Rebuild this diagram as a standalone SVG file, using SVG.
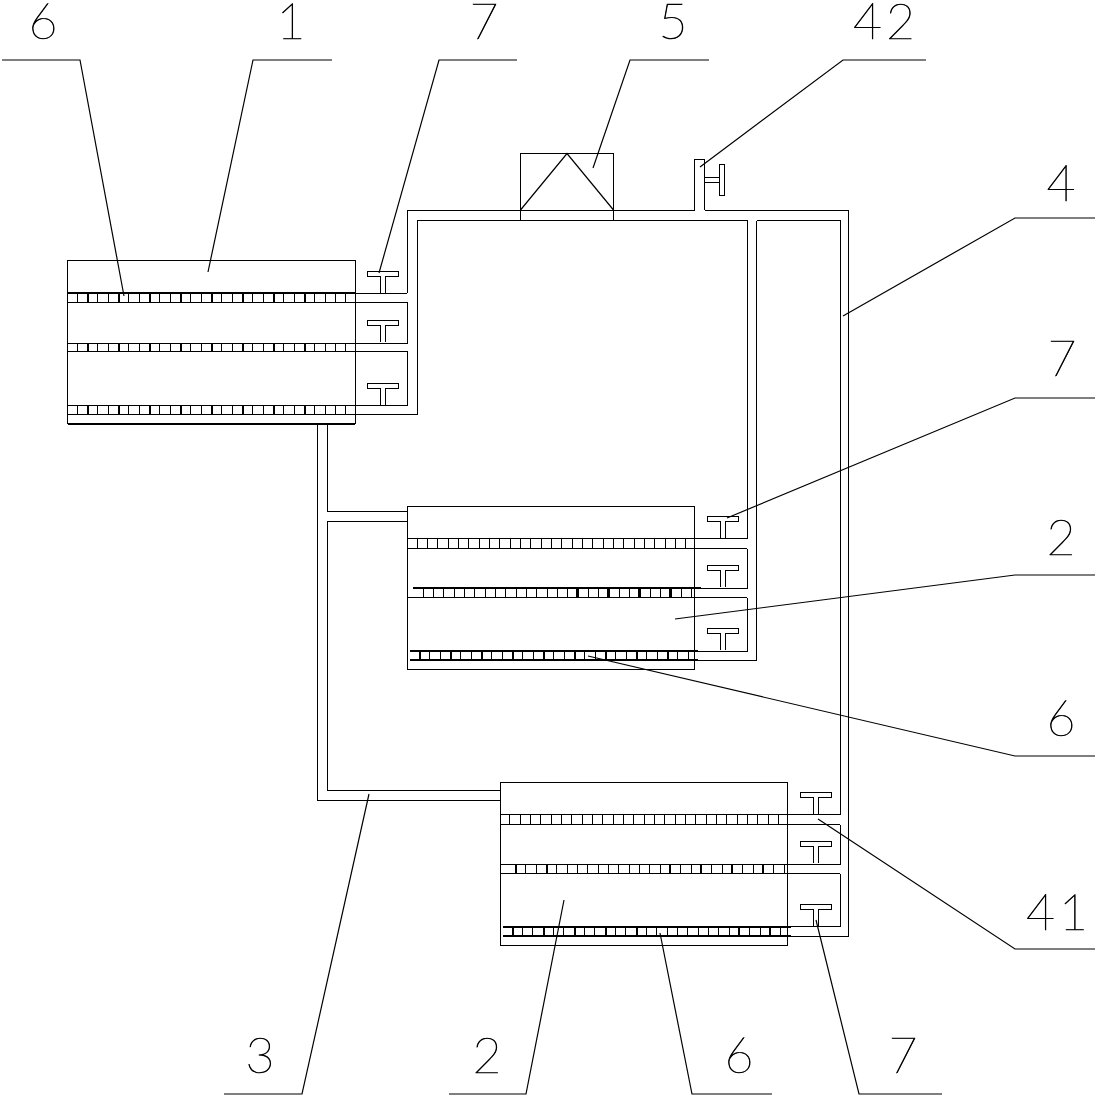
<svg xmlns="http://www.w3.org/2000/svg" width="1096" height="1104" viewBox="0 0 1096 1104">
<style>
.l{fill:none;stroke:#000;stroke-width:1;shape-rendering:crispEdges}
.h{fill:none;stroke:#000;stroke-width:2;shape-rendering:crispEdges}
.k{fill:none;stroke:#000;stroke-width:1.2}
.t{fill:none;stroke:#000;stroke-width:9;stroke-dasharray:1 9.33;shape-rendering:crispEdges}
.b{fill:none;stroke:#000;stroke-width:9;stroke-dasharray:2 29;shape-rendering:crispEdges}
text{font-family:"Lato","Liberation Sans",sans-serif;font-weight:100;font-size:50px;text-anchor:middle;fill:#000;stroke:#000;stroke-width:.7}
.w{letter-spacing:4px}
</style>
<defs>
<path id="tee" class="l" d="M13.500 22V5.500H0.500V0.500H31.500V5.500H18.500V22"/>
</defs>
<g id="connectors">
<path id="pipe4" class="l" d="M407 293V210.500H694.500M704.500 210.500H848.500V936.500H787M417 220.500V414H355M407 302V343H355M407 351V405H355M355 293H407M355 302H407M355 351H407M417 220.500H747V538.500H695M756.500 220.500H840V814.500H787M756.500 220.500V660.500H695M747 548.500V588H695M747 597.500V651H695M695 548.500H747M695 597.500H747M840 824.500V864H787M840 873.500V926.500H787M787 824.500H840M787 873.500H840"/>
<path id="pipe3" class="l" d="M317 424V800H500M327 424V511H407M407 521H327V790H500"/>
<g id="leaders">
<path class="k" d="M2 60H80L124 296M332 60H253L208 272M517 60H439L379 273M709 60H630L593 168M926 60H843L700 167M1095 218H1015L843 316M1095 398H1015L727 518M1095 575H1015L675 619M1095 756H1015L588 656M1095 949H1015L818 819M942 1094H859L816 920M772 1094H692L660 933M449 1094H526L564 900M224 1094H302L369 794"/>
</g>
</g>
<g id="node-1">
<rect class="l" x="67.500" y="260.500" width="287.500" height="163"/>
<path class="h" d="M67.500 293H355M67.500 423.500H355"/>
<path class="l" d="M67.500 302H355M67.500 343H355M67.500 351H355M67.500 405H355M67.500 414H355"/>
<path class="t" d="M76.700 297.500H348M76.700 347H348M76.700 409.700H348"/>
<path class="b" d="M87 297.500H330M87 347H330M87 409.700H330"/>
<use href="#tee" x="367" y="270.500"/><use href="#tee" x="367" y="319.500"/><use href="#tee" x="367" y="382.500"/>
</g>
<g id="node-2a">
<rect class="l" x="407.500" y="506" width="287" height="163.300"/>
<path class="l" d="M407.500 538.500H695M407.500 548.500H695M407.500 597.500H695"/>
<path class="h" d="M413 588H701M410 650.700H698M410 660H698"/>
<path class="t" d="M416.700 543.500H688M422.700 592.700H694M419 655.300H690"/>
<path class="b" d="M419 655.300H670"/>
<path class="b" d="M575.700 592.700H690"/>
<use href="#tee" x="707" y="516.300"/><use href="#tee" x="707" y="565.300"/><use href="#tee" x="707" y="628.300"/>
</g>
<g id="node-2b">
<rect class="l" x="500.500" y="782.500" width="287" height="163"/>
<path class="l" d="M500.500 814.500H787M500.500 824.500H787M500.500 864H787M500.500 873.500H787"/>
<path class="h" d="M503 926.700H791M503 936H791"/>
<path class="t" d="M509.300 819.300H781M515 868.700H786M511.700 931.300H783"/>
<path class="b" d="M515 868.700H560M669 868.700H785M511.700 931.300H640M738 931.300H785"/>
<use href="#tee" x="800" y="792.300"/><use href="#tee" x="800" y="841"/><use href="#tee" x="800" y="904.300"/>
</g>
<g id="node-5">
<rect class="l" x="520.500" y="153.500" width="93" height="66.500"/>
<path class="k" d="M520.500 210L567 153.500L613.500 210"/>
</g>
<g id="node-42">
<path class="l" d="M694.500 210V159.500H704.500V210M704.500 177.500H719.500M704.500 182.500H719.500"/>
<rect class="l" x="719.500" y="164.500" width="5" height="31"/>
</g>
<g id="labels">
<text x="43" y="39">6</text><text x="291" y="39">1</text><text x="484" y="39">7</text><text x="673" y="39">5</text><text class="w" x="886" y="39">42</text>
<text x="1061" y="201">4</text><text x="1062" y="376">7</text><text x="1061" y="555">2</text><text x="1061" y="736">6</text><text class="w" x="1059" y="930">41</text>
<text x="260" y="1073">3</text><text x="487" y="1073">2</text><text x="739" y="1073">6</text><text x="903" y="1073">7</text>
</g>
</svg>
